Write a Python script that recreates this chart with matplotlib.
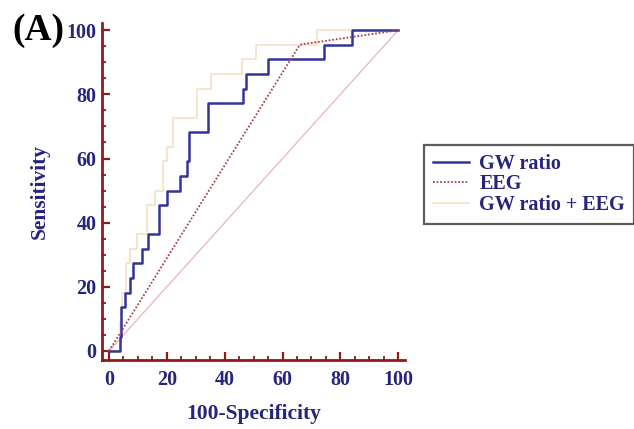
import matplotlib
matplotlib.use("Agg")
import matplotlib.pyplot as plt

# ROC curve vertices (100-specificity vs sensitivity, %)
gw_fpr = [0, 3.8, 3.8, 4.3, 4.3, 5.5, 5.5, 7.3, 7.3, 8.4, 8.4, 11.3, 11.3, 13.6, 13.6,
          17.4, 17.4, 20.2, 20.2, 24.4, 24.4, 26.9, 26.9, 27.8, 27.8, 34.4, 34.4,
          46.5, 46.5, 47.2, 47.2, 55.1, 55.1, 74.2, 74.2, 84.0, 84.0, 100]
gw_tpr = [0, 0, 4.5, 4.5, 13.6, 13.6, 18.2, 18.2, 22.7, 22.7, 27.3, 27.3, 31.8, 31.8,
          36.4, 36.4, 45.5, 45.5, 50.0, 50.0, 54.5, 54.5, 59.1, 59.1, 68.2, 68.2,
          77.3, 77.3, 81.8, 81.8, 86.4, 86.4, 90.9, 90.9, 95.5, 95.5, 100, 100]

eeg_fpr = [0, 66.0, 100]
eeg_tpr = [0, 95.5, 100]

gwe_fpr = [0, 3.8, 3.8, 4.6, 4.6, 5.9, 5.9, 7.3, 7.3, 9.6, 9.6, 13.0, 13.0, 15.9, 15.9,
           18.5, 18.5, 20.2, 20.2, 22.0, 22.0, 30.3, 30.3, 35.2, 35.2, 46.0, 46.0,
           50.8, 50.8, 71.9, 71.9, 100]
gwe_tpr = [0, 0, 9.1, 9.1, 18.2, 18.2, 27.3, 27.3, 31.8, 31.8, 36.4, 36.4, 45.5, 45.5,
           50.0, 50.0, 59.1, 59.1, 63.6, 63.6, 72.7, 72.7, 81.8, 81.8, 86.4, 86.4,
           90.9, 90.9, 95.5, 95.5, 100, 100]

diag = [0, 100]
ticks = [0, 20, 40, 60, 80, 100]

NAVY = "#25257d"
AXRED = "#8e1a1a"

plt.rcParams["font.family"] = ["Liberation Serif", "DejaVu Serif"]
plt.rcParams["font.weight"] = "bold"

fig = plt.figure(figsize=(6.34, 4.29), dpi=100)
ax = fig.add_axes([0.161, 0.161, 0.478, 0.785])

# chance diagonal
ax.plot(diag, diag, color="#eab3b9", linewidth=0.9, zorder=1)

ax.plot(gw_fpr, gw_tpr, color="#33349a", linewidth=1.8, label="GW ratio", zorder=3)
ax.plot(eeg_fpr, eeg_tpr, color="#a8424c", linewidth=1.3, linestyle=(0, (1, 1)),
        label="EEG", zorder=4)
ax.plot(gwe_fpr, gwe_tpr, color="#f9dcc0", linewidth=1.1, label="GW ratio + EEG",
        zorder=2)

ax.set_xlim(-2.4, 102.4)
ax.set_ylim(-2.8, 102.2)
ax.set_xticks(ticks)
ax.set_yticks(ticks)
ax.set_xticks(range(0, 101, 5), minor=True)
ax.set_yticks(range(0, 101, 5), minor=True)

for side in ["top", "right"]:
    ax.spines[side].set_visible(False)
for side in ["left", "bottom"]:
    ax.spines[side].set_color(AXRED)
    ax.spines[side].set_linewidth(2)

ax.tick_params(which="major", direction="in", length=6, width=1.6, color=AXRED,
               labelsize=14.5, labelcolor=NAVY)
ax.tick_params(which="minor", direction="in", length=3, width=1.3, color=AXRED)
ax.tick_params(axis="x", which="major", pad=7)
ax.tick_params(axis="y", which="major", pad=4)
for lab in ax.get_xticklabels() + ax.get_yticklabels():
    lab.set_fontweight("bold")

ax.set_xlabel("100-Specificity", fontsize=15.5, fontweight="bold", color=NAVY,
              labelpad=10)
ax.set_ylabel("Sensitivity", fontsize=15.5, fontweight="bold", color=NAVY,
              labelpad=12)

fig.text(0.06, 1 - 30 / 429, "(A)", fontsize=27, fontweight="bold", color="black",
         ha="center", va="center")

leg = ax.legend(loc="upper left", bbox_to_anchor=(424 / 634, 1 - 145 / 429),
                bbox_transform=fig.transFigure, fontsize=14.5, frameon=True,
                fancybox=False, borderpad=0.45, labelspacing=0.02,
                handlelength=1.8, handletextpad=0.5, borderaxespad=0)
leg.get_frame().set_edgecolor("#333333")
leg.get_frame().set_linewidth(1.6)
for txt in leg.get_texts():
    txt.set_color(NAVY)
    txt.set_fontweight("bold")

fig.savefig("out.png", dpi=100)
